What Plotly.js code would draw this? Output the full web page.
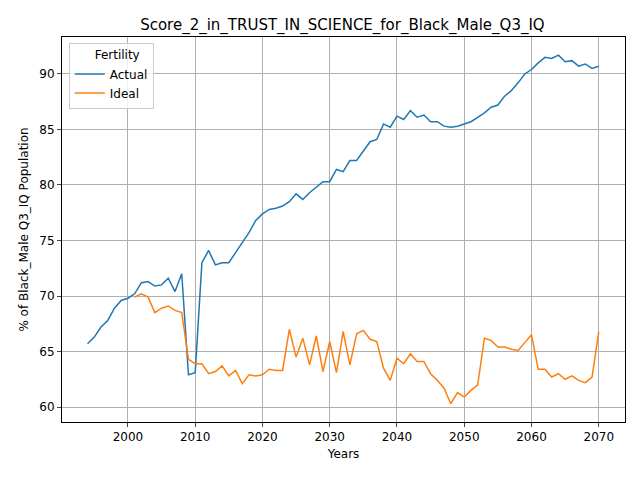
<!DOCTYPE html>
<html>
<head>
<meta charset="utf-8">
<script src="https://cdn.plot.ly/plotly-3.0.1.min.js"></script>
<style>body{margin:0;} #chart{width:640px;height:480px;}</style>
</head>
<body>
<div id="chart"></div>
<script>
const actualYears = [];
for (let y = 1994; y <= 2070; y++) actualYears.push(y);
const idealYears = actualYears.filter(y => y >= 2001);

const actual = [65.7, 66.3, 67.2, 67.8, 68.9, 69.6, 69.8, 70.2, 71.2, 71.3, 70.9, 71.0, 71.6, 70.4, 72.0, 62.9, 63.1,
  73.0, 74.1, 72.8, 73.0, 73.0, 73.9, 74.8, 75.7, 76.8, 77.4, 77.8, 77.9, 78.1, 78.5, 79.2, 78.7, 79.3, 79.8, 80.3,
  80.3, 81.4, 81.2, 82.2, 82.2, 83.0, 83.9, 84.1, 85.5, 85.2, 86.2, 85.9, 86.7, 86.1, 86.3, 85.7, 85.7, 85.3, 85.2,
  85.3, 85.5, 85.7, 86.1, 86.5, 87.0, 87.2, 88.0, 88.5, 89.2, 90.0, 90.4, 91.0, 91.5, 91.4, 91.7, 91.1, 91.2, 90.7,
  90.9, 90.5, 90.7];
const ideal = [69.9, 70.2, 69.9, 68.5, 68.9, 69.1, 68.7, 68.5, 64.3, 63.9, 63.9, 63.0, 63.2, 63.7, 62.8, 63.3, 62.1,
  62.9, 62.8, 62.9, 63.4, 63.3, 63.3, 67.0, 64.5, 66.2, 63.8, 66.4, 63.2, 65.9, 63.1, 66.8, 63.8, 66.6, 66.9, 66.1,
  65.9, 63.5, 62.4, 64.4, 63.9, 64.8, 64.1, 64.1, 63.0, 62.4, 61.7, 60.3, 61.3, 60.9, 61.5, 62.0, 66.2, 66.0, 65.4,
  65.4, 65.2, 65.1, 65.8, 66.5, 63.4, 63.4, 62.7, 63.0, 62.5, 62.8, 62.4, 62.2, 62.7, 66.8];

const traces = [
  { x: actualYears, y: actual, name: 'Actual', type: 'scatter', mode: 'lines', line: { color: '#1f77b4', width: 1.5 } },
  { x: idealYears, y: ideal, name: 'Ideal', type: 'scatter', mode: 'lines', line: { color: '#ff7f0e', width: 1.5 } }
];

const axisStyle = {
  showgrid: true, gridcolor: '#b0b0b0', gridwidth: 1, zeroline: false,
  showline: true, linecolor: 'black', mirror: true, ticks: 'outside', ticklen: 4,
  tickfont: { size: 12, color: 'black' }
};

Plotly.newPlot('chart', traces, {
  width: 640, height: 480,
  font: { family: 'DejaVu Sans', color: 'black' },
  paper_bgcolor: 'white', plot_bgcolor: 'white',
  margin: { l: 62, r: 15, t: 37, b: 58 },
  title: { text: 'Score_2_in_TRUST_IN_SCIENCE_for_Black_Male_Q3_IQ', font: { size: 15 }, x: 0.535, y: 0.96 },
  xaxis: Object.assign({}, axisStyle, { range: [1990.2, 2073.9], dtick: 10, title: { text: 'Years', font: { size: 12 }, standoff: 6 } }),
  yaxis: Object.assign({}, axisStyle, { range: [58.65, 93.33], dtick: 5, title: { text: '% of Black_Male Q3_IQ Population', font: { size: 12 } } }),
  legend: {
    x: 0.012, y: 0.985, xanchor: 'left', yanchor: 'top',
    bgcolor: 'rgba(255,255,255,0.8)', bordercolor: '#cccccc', borderwidth: 1,
    title: { text: '      Fertility', font: { size: 12 } }, font: { size: 12 }
  }
}, { displayModeBar: false });
</script>
</body>
</html>
